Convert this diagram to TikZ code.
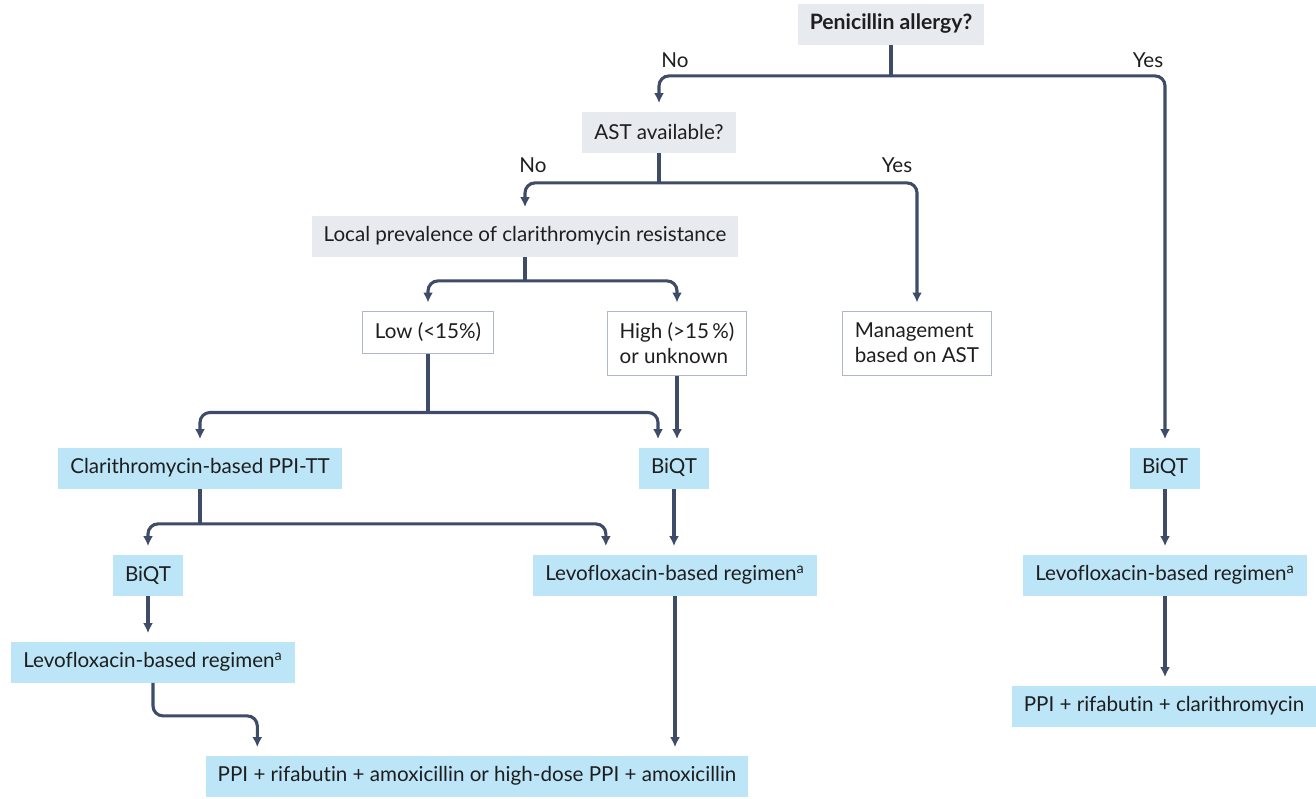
\documentclass[tikz,border=0pt]{standalone}
\usepackage{fontspec}
\setmainfont{Lato}[Ligatures=NoCommon]
\usepackage{xcolor}
\usepackage{tikz}
\usetikzlibrary{arrows.meta}
\usetikzlibrary{calc}

\definecolor{lineblue}{HTML}{3E4C68}
\definecolor{askgray}{HTML}{E7EAEF}
\definecolor{txblue}{HTML}{BCE5F8}
\definecolor{edgegray}{HTML}{AEB8C8}
\definecolor{inkgray}{HTML}{1E1E1E}

\begin{document}
\begin{tikzpicture}[x=0.5pt,y=-0.5pt,>={Latex[length=5pt,width=5pt]},
		every node/.style={text=inkgray, font=\fontsize{10.3}{12.4}\selectfont},
		ask/.style={fill=askgray, minimum height=20.5pt, inner xsep=6pt},
		opt/.style={draw=edgegray, line width=0.5pt, fill=white, minimum height=21pt, inner xsep=6pt},
		tx/.style={fill=txblue, minimum height=20.5pt, inner xsep=6pt},
		link/.style={draw=lineblue, line width=1.55pt, rounded corners=5pt},
		arr/.style={link, ->, shorten >=4pt}]
		\useasboundingbox (0,0) rectangle (1316,798);

		% Penicillin allergy
		\node at (891,24) (pa) [ask, font=\fontsize{10.6}{12.4}\selectfont\bfseries] {Penicillin allergy?};
		\node at (659,132) (ast) [ask] {AST available?};
		\draw[link] (pa.south) -- ++(0,31) coordinate (pj);
		\draw[arr] (pj) -| (ast.north);
		\node at (675,60) (no1) {No};
		\node at (1148,60) (yes1) {Yes};

		% AST available
		\draw[link] (ast.south) -- ++(0,30) coordinate (aj);
		\node at (533,165) (no2) {No};
		\node at (897,165) (yes2) {Yes};

		% Local prevalence
		\node at (525,236) (lp) [ask] {Local prevalence of clarithromycin resistance};
		\draw[arr] (aj) -| (lp.north);
		\draw[link] (lp.south) -- ++(0,24) coordinate (lj);

		\node at (428,332) (low) [opt, minimum width=61.5pt] {Low (<15\%)};
		\node at (677,343) (high) [opt, align=left, minimum height=32pt] {High (>15\,\%)\\or unknown};
		\node at (917,343) (mgmt) [opt, align=left, minimum height=32pt] {Management\\based on AST};
		\draw[arr] (lj) -| (low.north);
		\draw[arr] (lj) -| (high.north);
		\draw[arr] (aj) -| (mgmt.north);

		% Low / high
		\node at (200,468) (cpt) [tx] {Clarithromycin-based PPI-TT};
		\node at (674,468) (bq2) [tx] {BiQT};
		\node at (1165,468) (bq3) [tx] {BiQT};
		\draw[link] (low.south) -- ++(0,59) coordinate (wj);
		\draw[arr] (wj) -| (cpt.north);
		\draw[arr] (wj) -| ($(bq2.north)+(-16,0)$);
		\draw[arr] (high.south) -- (high.south |- bq2.north);
		\draw[arr] (pj) -| (bq3.north);

		% Clarithromycin-based
		\node at (148,575) (bq1) [tx] {BiQT};
		\node at (675,575) (lv2) [tx] {Levofloxacin-based regimen\textsuperscript{a}};
		\node at (1165,575) (lv3) [tx] {Levofloxacin-based regimen\textsuperscript{a}};
		\draw[link] (cpt.south) -- ++(0,35) coordinate (cj);
		\draw[arr] (cj) -| (bq1.north);
		\draw[arr] (cj) -| ($(lv2.north west)+(73,0)$);
		\draw[arr] (bq2.south) -- (bq2.south |- lv2.north);
		\draw[arr] (bq3.south) -- (lv3.north);

		% Second line
		\node at (153,662) (lv1) [tx] {Levofloxacin-based regimen\textsuperscript{a}};
		\node at (1164,706) (rc) [tx] {PPI + rifabutin + clarithromycin};
		\node at (477,776) (fin) [tx] {PPI + rifabutin + amoxicillin or high-dose PPI + amoxicillin};
		\draw[arr] (bq1.south) -- (bq1.south |- lv1.north);
		\draw[arr] (lv1.south) -- ++(0,33) -| ($(fin.north west)+(52,0)$);
		\draw[arr] (lv2.south) -- (lv2.south |- fin.north);
		\draw[arr] (lv3.south) -- (lv3.south |- rc.north);

	\end{tikzpicture}
\end{document}
